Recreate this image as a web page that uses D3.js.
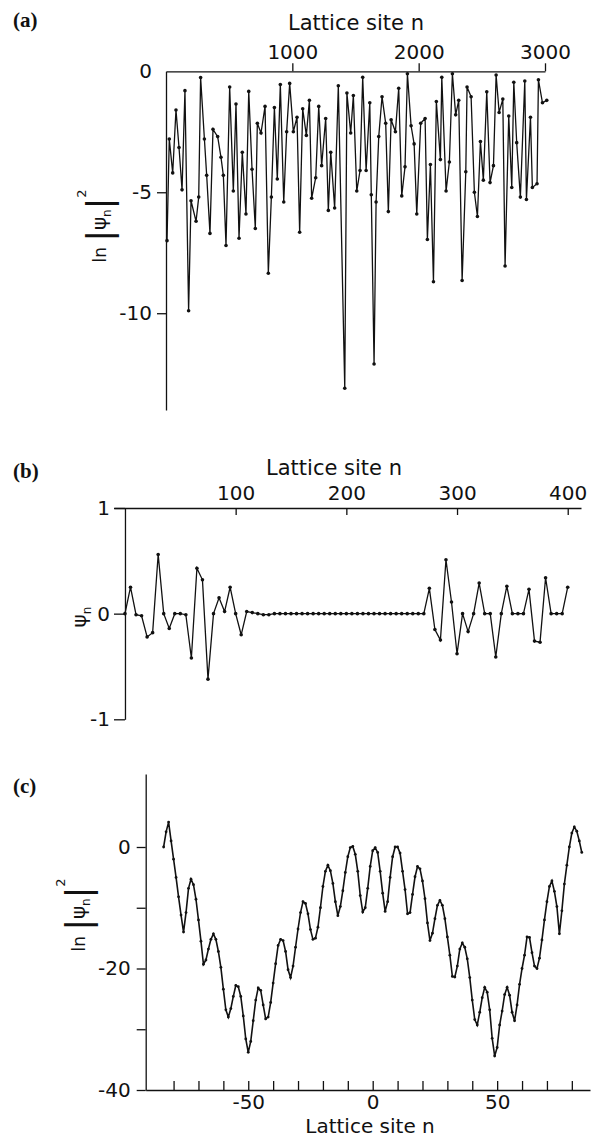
<!DOCTYPE html>
<head>
  <meta charset="utf-8">
  <title>Wavefunctions on the lattice</title>
  <style>
  body { margin: 0; background: #fff; }
  svg { display: block; }
  .tick text { font: 20px "DejaVu Sans", sans-serif; fill: #111; }
  .axisLabel { font: 21px "DejaVu Sans", sans-serif; fill: #111; }
  .panelLabel { font: bold 21px "Liberation Serif", "DejaVu Serif", serif; fill: #111; }
  .domain, .tick line { stroke: #111; stroke-width: 1.3; }
  path.curve { fill: none; stroke: #111; }
  circle { fill: #111; }
  </style>
</head>
<body>
<script src="https://d3js.org/d3.v7.min.js"></script>
<script>
  // (a) ln|psi_n|^2 over 3000 sites (sampled)
  const sitesA = [8, 26, 53, 79, 103, 127, 150, 179, 198, 238, 259, 274, 304, 322, 348, 372, 409, 435, 454, 475,
    504, 533, 554, 578, 604, 633, 655, 681, 707, 723, 752, 784, 810, 834, 858, 881, 905, 932, 955, 979,
    1008, 1037, 1058, 1082, 1111, 1135, 1153, 1185, 1209, 1232, 1264, 1285, 1304, 1335, 1364, 1415, 1432, 1462, 1483, 1510,
    1536, 1557, 1584, 1613, 1625, 1647, 1663, 1684, 1710, 1739, 1760, 1782, 1816, 1842, 1866, 1892, 1911, 1940, 1964, 1985,
    2016, 2051, 2069, 2093, 2117, 2140, 2172, 2183, 2217, 2243, 2267, 2293, 2317, 2344, 2373, 2383, 2415, 2441, 2465, 2489,
    2512, 2539, 2565, 2592, 2613, 2637, 2666, 2684, 2713, 2737, 2753, 2776, 2805, 2840, 2853, 2885, 2900, 2937, 2948, 2980, 3014];
  const lnPsiA = [-7.0, -2.8, -4.2, -1.6, -3.15, -4.9, -0.8, -9.9, -5.35, -6.2, -5.2, -0.26, -2.8, -4.3, -6.7, -2.4, -2.7, -3.55, -4.3, -7.2,
    -0.65, -4.95, -1.35, -6.9, -3.35, -5.9, -0.83, -4.05, -6.5, -2.15, -2.55, -1.45, -8.35, -5.2, -1.5, -4.45, -0.55, -5.4, -2.5, -0.5,
    -2.5, -1.9, -6.65, -1.55, -2.65, -1.2, -5.25, -4.4, -1.45, -3.9, -1.95, -5.75, -3.35, -5.65, -0.6, -13.1, -0.9, -2.55, -1.0, -4.95,
    -4.1, -0.25, -4.1, -1.3, -5.1, -12.1, -5.4, -2.7, -1.05, -2.15, -5.8, -2.0, -2.5, -0.7, -5.15, -3.95, -0.1, -2.25, -3.0, -5.9,
    -2.15, -1.95, -6.95, -3.85, -8.7, -1.25, -3.65, -0.25, -4.95, -3.75, -0.1, -1.8, -1.2, -8.65, -4.15, -0.65, -1.05, -5.0, -6.0, -2.9,
    -4.5, -0.85, -4.6, -3.9, -0.15, -1.7, -1.15, -8.05, -1.85, -4.8, -0.45, -2.95, -5.2, -0.4, -5.3, -1.9, -4.8, -4.65, -0.35, -1.3, -1.2];
  const xTicksA = [1000, 2000, 3000];
  const yTicksA = [0, -5, -10];

  // (b) psi_n, every 5th site from 0 to 400
  const sitesB = d3.range(0, 401, 5);
  const psiB = [0.0, 0.25, -0.01, -0.02, -0.22, -0.18, 0.56, 0.0, -0.14, 0.0, 0.0, -0.01, -0.42, 0.43, 0.32, -0.62,
    0.0, 0.15, 0.02, 0.25, 0.0, -0.2, 0.02, 0.01,
    0.0, -0.01, -0.01, 0.0, 0.0, 0.0, 0.0, 0.0, 0.0, 0.0, 0.0, 0.0, 0.0, 0.0, 0.0,
    0.0, 0.0, 0.0, 0.0, 0.0, 0.0, 0.0, 0.0, 0.0, 0.0, 0.0, 0.0, 0.0, 0.0, 0.0,
    0.0, 0.24, -0.15, -0.25, 0.51, 0.11, -0.38, 0.0, -0.17, 0.0, 0.29, 0.0, 0.0, -0.41, 0.0, 0.26,
    0.0, 0.0, 0.0, 0.23, -0.26, -0.27, 0.34, 0.0, 0.0, 0.0, 0.25];
  const xTicksB = [100, 200, 300, 400];
  const yTicksB = [1, 0, -1];

  // (c) ln|psi_n|^2, sites -84 .. 84
  const sitesC = d3.range(-84, 85);
  const lnPsiC = [0.0, 2.5, 4.1, 1.0, -2.0, -5.0, -8.2, -11.2, -14.0, -10.8,
    -6.8, -5.3, -6.2, -8.6, -12.0, -15.5, -19.3, -18.6, -16.8, -15.2,
    -14.3, -15.2, -17.2, -19.8, -23.4, -26.8, -28.0, -26.6, -24.6, -22.8,
    -23.0, -24.6, -27.8, -31.6, -33.8, -32.0, -28.6, -25.2, -23.2, -23.6,
    -26.0, -28.3, -28.0, -25.6, -22.4, -19.2, -16.2, -15.2, -15.4, -17.2,
    -20.2, -21.5, -19.6, -16.5, -13.5, -10.8, -9.0, -9.3, -11.0, -13.6,
    -15.2, -15.0, -13.2, -10.0, -6.5, -4.0, -3.0, -3.9, -6.0, -9.0,
    -11.3, -9.8, -7.2, -4.2, -1.6, -0.1, 0.1, -1.2, -4.0, -8.0,
    -10.7, -10.0, -6.8, -3.2, -0.6, -0.1, -0.9, -4.0, -7.6, -10.6,
    -9.0, -5.0, -1.6, 0.0, 0.0, -1.0, -4.0, -7.0, -11.0, -10.8,
    -7.8, -4.9, -3.2, -3.6, -5.6, -8.5, -12.5, -15.4, -14.2, -11.8,
    -9.6, -8.8, -9.6, -11.8, -14.8, -17.8, -21.3, -21.4, -19.6, -16.8,
    -15.8, -16.5, -18.4, -21.5, -25.2, -28.4, -29.3, -27.2, -24.8, -23.1,
    -23.9, -26.8, -31.5, -34.4, -33.0, -29.3, -27.0, -24.3, -23.1, -24.4,
    -27.2, -28.6, -26.0, -22.6, -20.0, -17.8, -14.8, -14.9, -17.4, -19.6,
    -20.0, -18.3, -15.3, -12.0, -9.0, -6.5, -5.6, -7.3, -9.8, -14.3,
    -10.5, -6.1, -3.0, 0.0, 2.3, 3.3, 2.6, 1.0, -0.9];
  const xTicksC = d3.range(-80, 81, 10);
  const xLabelsC = [-50, 0, 50];
  const yTicksC = [0, -10, -20, -30, -40];
  const yLabelsC = [0, -20, -40];

  const width = 598, height = 1139;
  const fmt = d => String(d);   // plain hyphen minus, as in the print

  const svg = d3.select("body").append("svg")
    .attr("width", width)
    .attr("height", height);

  const drawSeries = (g, xs, ys, x, y, r, sw) => {
    const pts = xs.map((n, i) => [n, ys[i]]);
    g.append("path")
      .attr("class", "curve")
      .attr("stroke-width", sw)
      .attr("d", d3.line().x(d => x(d[0])).y(d => y(d[1]))(pts));
    g.selectAll("circle.pt").data(pts).enter()
      .append("circle")
      .attr("class", "pt")
      .attr("cx", d => x(d[0]))
      .attr("cy", d => y(d[1]))
      .attr("r", r);
  };

  // rotated "ln |psi_n|^2"
  const lnLabel = (x, y) => {
    const t = svg.append("text")
      .attr("class", "axisLabel")
      .attr("text-anchor", "middle")
      .attr("transform", `translate(${x},${y}) rotate(-90)`);
    t.append("tspan").attr("font-size", 17).text("ln ");
    t.append("tspan").attr("font-size", 34).attr("dy", 5).text("|");
    t.append("tspan").attr("font-size", 20).attr("dy", -5).text("ψ");
    t.append("tspan").attr("font-size", 12).attr("dy", 5).text("n");
    t.append("tspan").attr("font-size", 34).text("|");
    t.append("tspan").attr("font-size", 13).attr("dy", -25).text("2");
  };

  const panelLabel = (x, y, s) => svg.append("text")
    .attr("class", "panelLabel").attr("x", x).attr("y", y).text(s);

  // ---------- (a)
  const xA = d3.scaleLinear().domain([0, 3000]).range([166, 545]);
  const yA = d3.scaleLinear().domain([-14, 0]).range([410, 71.3]);
  const gA = svg.append("g");

  gA.append("g")
    .attr("transform", `translate(0,${yA(0)})`)
    .call(d3.axisTop(xA).tickValues(xTicksA).tickSize(8).tickSizeOuter(0).tickPadding(4).tickFormat(fmt));
  gA.append("g")
    .attr("transform", `translate(${xA(0)},0)`)
    .call(d3.axisLeft(yA).tickValues(yTicksA).tickSize(9).tickSizeOuter(0).tickPadding(5).tickFormat(fmt))
    .call(g => g.selectAll(".tick").filter(d => d === 0).select("line").remove());
  drawSeries(gA, sitesA, lnPsiA, xA, yA, 1.8, 1.3);

  svg.append("text").attr("class", "axisLabel").attr("x", 356).attr("y", 30)
    .attr("text-anchor", "middle").text("Lattice site n");
  lnLabel(106, 226);
  panelLabel(13, 27, "(a)");

  // ---------- (b)
  const xB = d3.scaleLinear().domain([-10, 412]).range([113.9, 581]);
  const yB = d3.scaleLinear().domain([-1, 1]).range([719.3, 508]);
  const gB = svg.append("g");

  gB.append("g")
    .attr("transform", `translate(0,${yB(1)})`)
    .call(d3.axisTop(xB).tickValues(xTicksB).tickSize(-7).tickSizeOuter(0).tickPadding(8).tickFormat(fmt));
  gB.append("g")
    .attr("transform", `translate(${xB(0)},0)`)
    .call(d3.axisLeft(yB).tickValues(yTicksB).tickSize(11).tickSizeOuter(0).tickPadding(4).tickFormat(fmt));
  drawSeries(gB, sitesB, psiB, xB, yB, 1.8, 1.3);

  svg.append("text").attr("class", "axisLabel").attr("x", 334).attr("y", 475)
    .attr("text-anchor", "middle").text("Lattice site n");
  const psiLab = svg.append("text")
    .attr("class", "axisLabel")
    .attr("text-anchor", "middle")
    .attr("transform", "translate(86,617) rotate(-90)");
  psiLab.append("tspan").attr("font-size", 20).text("ψ");
  psiLab.append("tspan").attr("font-size", 12).attr("dy", 5).text("n");
  panelLabel(13, 478, "(b)");

  // ---------- (c)
  const xC = d3.scaleLinear().domain([-91.2, 87.3]).range([145.7, 590]);
  const yC = d3.scaleLinear().domain([-40, 12]).range([1090, 774.1]);
  const gC = svg.append("g");

  gC.append("g")
    .attr("transform", `translate(0,${yC(-40)})`)
    .call(d3.axisBottom(xC).tickValues(xTicksC).tickSize(-9).tickSizeOuter(0).tickPadding(5)
      .tickFormat(d => xLabelsC.includes(d) ? fmt(d) : ""));
  gC.append("g")
    .attr("transform", `translate(${xC(-91.2)},0)`)
    .call(d3.axisLeft(yC).tickValues(yTicksC).tickSize(9).tickSizeOuter(0).tickPadding(6)
      .tickFormat(d => yLabelsC.includes(d) ? fmt(d) : ""));
  drawSeries(gC, sitesC, lnPsiC, xC, yC, 1.4, 1.6);

  svg.append("text").attr("class", "axisLabel").attr("x", 370).attr("y", 1133)
    .style("font-size", "20px")
    .attr("text-anchor", "middle").text("Lattice site n");
  lnLabel(85, 915);
  panelLabel(13, 793, "(c)");
</script>
</body>
